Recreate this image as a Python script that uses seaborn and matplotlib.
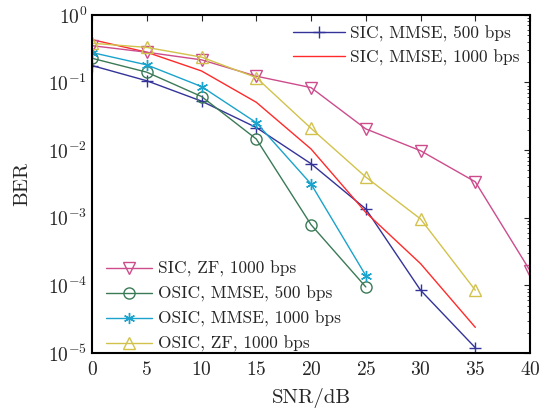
import matplotlib
matplotlib.use("Agg")
import matplotlib.pyplot as plt
import seaborn as sns
import pandas as pd
import numpy as np
from matplotlib.ticker import LogLocator, NullFormatter, MultipleLocator

snr = [0, 5, 10, 15, 20, 25, 30, 35, 40]

sic_mmse_500 = [0.178, 0.106, 0.053, 0.0216, 0.0063, 1.35e-3, 8.5e-5, 1.2e-5]
sic_mmse_1000 = [0.43, 0.28, 0.148, 0.051, 0.0104, 1.2e-3, 2.1e-4, 2.4e-5]
sic_zf_1000 = [0.35, 0.28, 0.216, 0.124, 0.084, 0.0206, 0.0098, 3.4e-3, 1.65e-4]
osic_mmse_500 = [0.228, 0.142, 0.062, 0.0146, 7.9e-4, 9.5e-5]
osic_mmse_1000 = [0.277, 0.182, 0.087, 0.0255, 3.16e-3, 1.4e-4]
osic_zf_1000 = [0.38, 0.33, 0.237, 0.118, 0.021, 4.0e-3, 9.6e-4, 8.5e-5]

labels = ["SIC, MMSE, 500 bps", "SIC, MMSE, 1000 bps", "SIC, ZF, 1000 bps",
          "OSIC, MMSE, 500 bps", "OSIC, MMSE, 1000 bps", "OSIC, ZF, 1000 bps"]
series = [sic_mmse_500, sic_mmse_1000, sic_zf_1000, osic_mmse_500, osic_mmse_1000, osic_zf_1000]
colors = ["#333399", "#ff2a2a", "#cc4c8c", "#3b7a57", "#1aa3cc", "#d2c24c"]
markers = ["+", None, "v", "o", (6, 2, 0), "^"]

sns.set_style("white")
plt.rcParams["font.family"] = ["cmr10", "DejaVu Serif"]
plt.rcParams["mathtext.fontset"] = "cm"
plt.rcParams["axes.formatter.use_mathtext"] = True
plt.rcParams["axes.unicode_minus"] = False

fig = plt.figure(figsize=(5.51, 4.12), dpi=100)
ax = fig.add_axes([0.167, 0.143, 0.795, 0.821])

handles = []
for lab, ys, c, m in zip(labels, series, colors, markers):
    df = pd.DataFrame({"snr": snr[:len(ys)], "ber": ys})
    sns.lineplot(data=df, x="snr", y="ber", ax=ax, color=c, lw=1.0,
                 marker=m, markersize=8,
                 markerfacecolor="none" if m in ("v", "o", "^") else c,
                 markeredgecolor=c, markeredgewidth=1.0, label=lab, legend=False)
    handles.append(ax.lines[-1])

ax.set_yscale("log")
ax.set_xlim(0, 40)
ax.set_ylim(1e-5, 1)
ax.xaxis.set_major_locator(MultipleLocator(5))
ax.yaxis.set_major_locator(LogLocator(base=10, numticks=10))
ax.yaxis.set_minor_locator(LogLocator(base=10, subs=np.arange(2, 10), numticks=10))
ax.yaxis.set_minor_formatter(NullFormatter())
ax.tick_params(which="both", direction="in", top=True, right=True, labelsize=14)
ax.tick_params(axis="x", pad=6)
ax.tick_params(which="major", length=4, width=0.8)
ax.tick_params(which="minor", length=2, width=0.6)
for s in ax.spines.values():
    s.set_linewidth(1.5)
    s.set_color("black")
ax.set_xlabel("SNR/dB", fontsize=15, labelpad=6)
ax.set_ylabel("BER", fontsize=15, labelpad=12)

leg1 = ax.legend(handles=handles[:2], loc="upper right", frameon=False, fontsize=12.5,
                 handlelength=3.0, handletextpad=0.3, borderaxespad=0.2, labelspacing=0.45,
                 bbox_to_anchor=(1.0, 1.0))
ax.add_artist(leg1)
ax.legend(handles=handles[2:], loc="lower left", frameon=False, fontsize=12.5,
          handlelength=2.7, handletextpad=0.3, borderaxespad=0.0, labelspacing=0.5,
          bbox_to_anchor=(0.015, -0.018))

fig.savefig("out.png", dpi=100)
